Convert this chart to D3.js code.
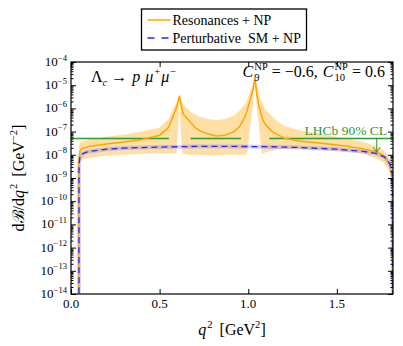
<!DOCTYPE html>
<html>
<head>
<meta charset="utf-8">
<script src="https://cdn.jsdelivr.net/npm/d3@7"></script>
<style>
body { margin: 0; background: #fff; }
svg text { font-family: "Liberation Serif", "Times New Roman", serif; fill: #000; }
</style>
</head>
<body>
<div id="chart"></div>
<script>
// Resonances + NP : central value and band
const q2Res = [0.0447, 0.0449, 0.046, 0.05, 0.06, 0.1, 0.2, 0.3, 0.4, 0.5, 0.55, 0.575, 0.595, 0.603, 0.608, 0.612, 0.616, 0.62, 0.628, 0.635, 0.669, 0.7, 0.725, 0.77, 0.82, 0.87, 0.92, 0.95, 0.98, 0.994, 1.0, 1.015, 1.028, 1.038, 1.048, 1.06, 1.075, 1.082, 1.09, 1.1, 1.135, 1.17, 1.21, 1.3, 1.4, 1.55, 1.65, 1.72, 1.76, 1.79, 1.805, 1.812, 1.8168];
const resCentral = [1e-20, 3e-9, 8e-9, 1.4e-8, 1.8e-8, 2.3e-8, 2.9e-8, 3.6e-8, 4.6e-8, 7e-8, 1.5e-7, 4.5e-7, 1.1e-6, 1.8e-6, 2.6e-6, 3.5e-6, 2.4e-6, 1.6e-6, 8e-7, 5.5e-7, 2.8e-7, 1.5e-7, 1.1e-7, 8e-8, 6.5e-8, 7e-8, 1e-7, 1.6e-7, 4e-7, 8e-7, 1.2e-6, 3e-6, 7e-6, 2.2e-5, 4e-6, 1.3e-6, 5e-7, 3.3e-7, 2.5e-7, 1.9e-7, 1e-7, 7e-8, 5e-8, 3.8e-8, 3.2e-8, 2.4e-8, 1.8e-8, 1.4e-8, 1.0e-8, 5e-9, 2.5e-9, 1.2e-9, 1e-20];
const resLow = [1e-20, 1e-9, 3e-9, 5e-9, 6e-9, 7.5e-9, 9e-9, 1e-8, 1.1e-8, 1.15e-8, 1.15e-8, 1.15e-8, 1.1e-8, 1e-7, 6e-7, 2.5e-6, 6e-7, 1e-7, 1.1e-8, 1.1e-8, 1e-8, 1e-8, 1e-8, 9.5e-9, 9.5e-9, 1e-8, 1e-8, 1e-8, 1e-8, 1.1e-8, 3e-8, 3e-7, 1.5e-6, 1.5e-5, 1.2e-6, 2e-7, 1.1e-8, 1.1e-8, 1.2e-8, 1.3e-8, 1.5e-8, 1.7e-8, 1.8e-8, 1.8e-8, 1.6e-8, 1.4e-8, 1.1e-8, 7e-9, 5e-9, 2.5e-9, 1.2e-9, 5e-10, 1e-20];
const resHigh = [1e-20, 8e-9, 2.2e-8, 3.3e-8, 3.8e-8, 4.6e-8, 6e-8, 7.5e-8, 1e-7, 1.5e-7, 3.5e-7, 9e-7, 1.8e-6, 2.5e-6, 3.1e-6, 3.7e-6, 3e-6, 2.3e-6, 1.7e-6, 1.4e-6, 8e-7, 5.5e-7, 4.5e-7, 3.5e-7, 3.2e-7, 3.5e-7, 5e-7, 8e-7, 1.5e-6, 2.3e-6, 3.2e-6, 6.5e-6, 1.3e-5, 2.4e-5, 1.1e-5, 4.5e-6, 2e-6, 1.5e-6, 1.1e-6, 8.5e-7, 4.5e-7, 2.5e-7, 1.7e-7, 1.1e-7, 8e-8, 5e-8, 3.6e-8, 2.4e-8, 1.7e-8, 9e-9, 4.5e-9, 2e-9, 1e-20];

// Perturbative SM + NP
const q2Pert = [0.0447, 0.0449, 0.046, 0.05, 0.06, 0.08, 0.1, 0.2, 0.3, 0.5, 0.7, 0.9, 1.1, 1.3, 1.5, 1.65, 1.72, 1.77, 1.8, 1.81, 1.815, 1.8168];
const pertCentral = [1e-20, 1.5e-9, 4e-9, 8e-9, 1.05e-8, 1.25e-8, 1.4e-8, 1.75e-8, 1.95e-8, 2.15e-8, 2.3e-8, 2.3e-8, 2.25e-8, 2.05e-8, 1.75e-8, 1.4e-8, 1.15e-8, 8e-9, 4e-9, 2e-9, 8e-10, 1e-20];

// LHCb limit, outside the omega and phi windows
const lhcbWindows = [[0, 0.552], [0.675, 0.960], [1.118, 1.8168]];
const lhcbLimit = 5e-8;
const lhcbArrow = [1.725, 1.3e-8];

const xTicks = [0, 0.5, 1.0, 1.5];
const yExponents = d3.range(-14, -3);

const W = 403, H = 346;
const margin = { top: 62, right: 10, bottom: 52, left: 71 };
const x = d3.scaleLinear().domain([0, 1.8168]).range([margin.left, W - margin.right]);
const y = d3.scaleLog().domain([1e-14, 1e-4]).range([H - margin.bottom, margin.top]);
const xR = x.range()[1], yB = y.range()[0];

const svg = d3.select("#chart").append("svg")
	.attr("width", W)
	.attr("height", H)
	.attr("font-family", "Liberation Serif, serif");

svg.append("clipPath").attr("id", "clip")
	.append("rect")
	.attr("x", margin.left).attr("y", margin.top)
	.attr("width", xR - margin.left)
	.attr("height", yB - margin.top);

const plot = svg.append("g").attr("clip-path", "url(#clip)");

const resRows = q2Res.map((q, i) => ({ q, c: resCentral[i], lo: resLow[i], hi: resHigh[i] }));
const pertRows = q2Pert.map((q, i) => ({ q, c: pertCentral[i] }));

// band
plot.append("path")
	.datum(resRows)
	.attr("fill", "orange")
	.attr("fill-opacity", 0.36)
	.attr("d", d3.area().x(d => x(d.q)).y0(d => y(d.lo)).y1(d => y(d.hi)));

// lhcb limit
const green = "#339933";
lhcbWindows.forEach(w => {
	plot.append("line")
		.attr("x1", x(w[0])).attr("x2", x(w[1]))
		.attr("y1", y(lhcbLimit)).attr("y2", y(lhcbLimit))
		.attr("stroke", green).attr("stroke-width", 1.5);
});

// perturbative (with a thin pale band)
const pertLine = d3.line().x(d => x(d.q)).y(d => y(d.c));
plot.append("path")
	.datum(pertRows)
	.attr("fill", "none")
	.attr("stroke", "#6f6fff")
	.attr("stroke-opacity", 0.3)
	.attr("stroke-width", 4)
	.attr("d", pertLine);

// resonances line
plot.append("path")
	.datum(resRows)
	.attr("fill", "none")
	.attr("stroke", "orange")
	.attr("stroke-width", 1.5)
	.attr("d", d3.line().x(d => x(d.q)).y(d => y(d.c)));

plot.append("path")
	.datum(pertRows)
	.attr("fill", "none")
	.attr("stroke", "#2525ff")
	.attr("stroke-width", 1.3)
	.attr("stroke-dasharray", "6,4")
	.attr("d", pertLine);

// arrow
const ax = x(lhcbArrow[0]);
svg.append("line")
	.attr("x1", ax).attr("x2", ax)
	.attr("y1", y(lhcbLimit)).attr("y2", y(lhcbArrow[1]))
	.attr("stroke", green).attr("stroke-width", 1);
svg.append("path")
	.attr("d", `M${ax - 3.5},${y(lhcbArrow[1]) - 5}L${ax},${y(lhcbArrow[1])}L${ax + 3.5},${y(lhcbArrow[1]) - 5}`)
	.attr("fill", "none").attr("stroke", green).attr("stroke-width", 1);

svg.append("text")
	.attr("x", xR - 6).attr("y", y(lhcbLimit) - 4)
	.attr("text-anchor", "end")
	.attr("font-size", 13.5)
	.style("fill", green)
	.text("LHCb 90% CL");

// axes: ticks inside on all sides
const yMinor = [];
yExponents.slice(0, -1).forEach(e => { for (let k = 2; k < 10; k++) yMinor.push(k * Math.pow(10, e)); });
const yMajor = yExponents.map(e => Math.pow(10, e));

function tickGroup(axis, tx, ty) {
	const g = svg.append("g").attr("transform", `translate(${tx},${ty})`).call(axis);
	g.select(".domain").remove();
	g.selectAll("line").attr("stroke", "#000");
	return g;
}
tickGroup(d3.axisLeft(y).tickValues(yMajor).tickSize(-5).tickFormat(""), margin.left, 0);
tickGroup(d3.axisLeft(y).tickValues(yMinor).tickSize(-2.5).tickFormat(""), margin.left, 0);
tickGroup(d3.axisRight(y).tickValues(yMajor).tickSize(-5).tickFormat(""), xR, 0);
tickGroup(d3.axisRight(y).tickValues(yMinor).tickSize(-2.5).tickFormat(""), xR, 0);
tickGroup(d3.axisBottom(x).tickValues(xTicks).tickSize(-5).tickFormat(""), 0, yB);
tickGroup(d3.axisTop(x).tickValues(xTicks).tickSize(-5).tickFormat(""), 0, margin.top);

svg.append("rect")
	.attr("x", margin.left).attr("y", margin.top)
	.attr("width", xR - margin.left).attr("height", yB - margin.top)
	.attr("fill", "none").attr("stroke", "#000").attr("stroke-width", 1.2);

// math-like text: pieces laid out one after another, sup/sub stacked
function mathText(parent, size, parts) {
	const g = parent.append("g");
	let cx = 0;
	parts.forEach(p => {
		if (p.t !== undefined) {
			const t = g.append("text").attr("x", cx).attr("y", 0)
				.attr("font-size", size)
				.attr("font-style", p.i ? "italic" : null)
				.style("font-family", p.f || null)
				.text(p.t);
			cx += t.node().getComputedTextLength() + (p.i ? 1 : 0);
		}
		let w = 0;
		if (p.sup !== undefined) {
			const t = g.append("text").attr("x", cx).attr("y", -size * 0.42)
				.attr("font-size", size * 0.66).text(p.sup);
			w = Math.max(w, t.node().getComputedTextLength());
		}
		if (p.sub !== undefined) {
			const t = g.append("text").attr("x", cx).attr("y", size * 0.28)
				.attr("font-size", size * 0.66)
				.attr("font-style", p.subi ? "italic" : null).text(p.sub);
			w = Math.max(w, t.node().getComputedTextLength());
		}
		cx += w;
		if (p.gap) cx += p.gap;
	});
	return { g, width: cx };
}
function place(m, x0, y0, anchor, rot) {
	const s = anchor === "end" ? -m.width : anchor === "middle" ? -m.width / 2 : 0;
	m.g.attr("transform", `translate(${x0},${y0})${rot ? ` rotate(${rot})` : ""} translate(${s},0)`);
}

// y tick labels
yExponents.forEach(e => {
	const m = mathText(svg, 13, [{ t: "10", sup: "\u2212" + (-e) }]);
	place(m, margin.left - 4, y(Math.pow(10, e)) + 4, "end");
});

// x tick labels
xTicks.forEach(v => {
	svg.append("text")
		.attr("x", x(v)).attr("y", yB + 14)
		.attr("text-anchor", "middle")
		.attr("font-size", 13)
		.text(d3.format(".1f")(v));
});

// axis titles
place(mathText(svg, 16, [{ t: "q", i: true, sup: "2", gap: 7 }, { t: "[GeV", sup: "2" }, { t: "]" }]),
	(margin.left + xR) / 2, 335, "middle");
place(mathText(svg, 16, [{ t: "d" }, { t: "\u212C", f: "DejaVu Serif" }, { t: "/d" }, { t: "q", i: true, sup: "2", gap: 7 }, { t: "[GeV", sup: "\u22122" }, { t: "]" }]),
	24, (margin.top + yB) / 2, "middle", -90);

// in-plot labels
place(mathText(svg, 16, [{ t: "\u039B", sub: "c", subi: true, gap: 4 }, { t: "\u2192", gap: 5 }, { t: "p", i: true, gap: 4 }, { t: "\u03BC", i: true, sup: "+", gap: 1 }, { t: "\u03BC", i: true, sup: "\u2212" }]),
	91, 82, "start");
place(mathText(svg, 16, [{ t: "C", i: true, sup: "NP", sub: "9", gap: 4 }, { t: "= \u22120.6,", gap: 5 }, { t: "C", i: true, sup: "NP", sub: "10", gap: 4 }, { t: "= 0.6" }]),
	385, 77, "end");

// legend
const legend = svg.append("g").attr("transform", "translate(141.5,9)");
legend.append("rect")
	.attr("width", 165).attr("height", 41)
	.attr("fill", "#fff").attr("stroke", "#000").attr("stroke-width", 1.3);
legend.append("line")
	.attr("x1", 6).attr("x2", 29).attr("y1", 11).attr("y2", 11)
	.attr("stroke", "orange").attr("stroke-width", 1.5);
legend.append("line")
	.attr("x1", 6).attr("x2", 29).attr("y1", 29).attr("y2", 29)
	.attr("stroke", "#2525ff").attr("stroke-width", 1.5)
	.attr("stroke-dasharray", "7,7");
legend.append("text").attr("x", 31).attr("y", 15.5).attr("font-size", 14).text("Resonances + NP");
legend.append("text").attr("x", 31).attr("y", 33.5).attr("font-size", 14).text("Perturbative\u2002SM + NP");
</script>
</body>
</html>
